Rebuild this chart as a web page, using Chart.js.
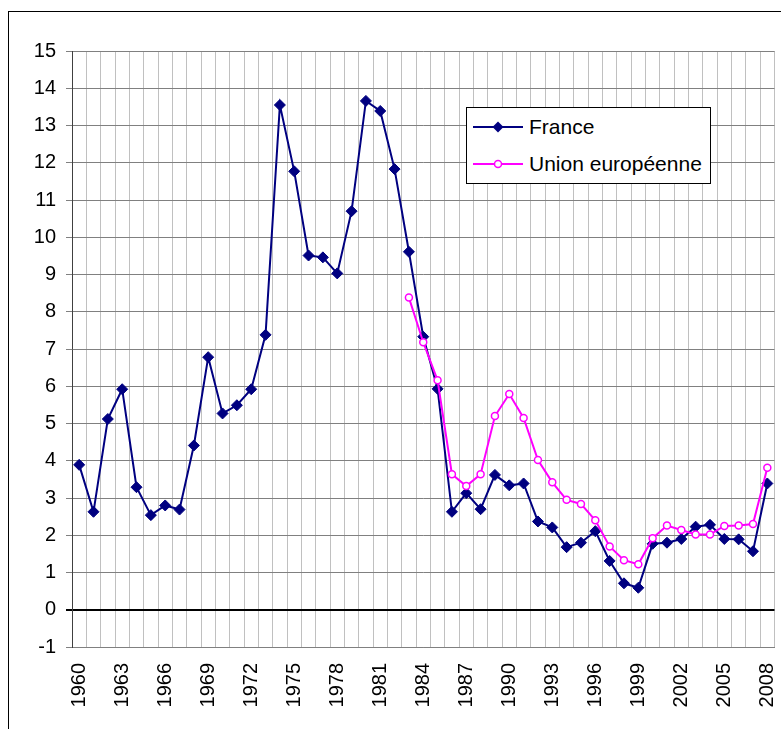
<!DOCTYPE html>
<html>
<head>
<meta charset="utf-8">
<script src="https://cdn.jsdelivr.net/npm/chart.js@4.4.0/dist/chart.umd.min.js"></script>
<style>
  html, body { margin: 0; padding: 0; background: #fff; overflow: hidden; }
  #frame { position: absolute; left: 8px; top: 11px; width: 900px; height: 900px;
           border-left: 1px solid #000; border-top: 1px solid #000; }
  #chart { position: absolute; left: 0; top: 0; }
  #legend { position: absolute; left: 466px; top: 107px; width: 243px; height: 75px;
            border: 1px solid #000; background: #fff;
            font-family: "Liberation Sans", Arial, sans-serif; font-size: 21px; color: #000; }
  .row { position: absolute; left: 6px; height: 24px; display: flex; align-items: center; }
  .row svg { margin-right: 6px; }
</style>
</head>
<body>
<div id="frame"></div>
<canvas id="chart" width="781" height="729"></canvas>
<div id="legend">
  <div class="row" style="top:7px">
    <svg width="50" height="14"><line x1="0" y1="7" x2="50" y2="7" stroke="#000080" stroke-width="2"/>
      <polygon points="25,1.5 30.5,7 25,12.5 19.5,7" fill="#000080"/></svg>France
  </div>
  <div class="row" style="top:44px">
    <svg width="50" height="14"><line x1="0" y1="7" x2="50" y2="7" stroke="#ff00ff" stroke-width="2"/>
      <circle cx="25" cy="7" r="3.5" fill="#fff" stroke="#ff00ff" stroke-width="1.5"/></svg>Union européenne
  </div>
</div>
<script>
// === Data ===
const years = ['1960', '1961', '1962', '1963', '1964', '1965', '1966', '1967', '1968', '1969',
    '1970', '1971', '1972', '1973', '1974', '1975', '1976', '1977', '1978', '1979',
    '1980', '1981', '1982', '1983', '1984', '1985', '1986', '1987', '1988', '1989',
    '1990', '1991', '1992', '1993', '1994', '1995', '1996', '1997', '1998', '1999',
    '2000', '2001', '2002', '2003', '2004', '2005', '2006', '2007', '2008'];

const france = [3.89, 2.63, 5.12, 5.92, 3.29, 2.54, 2.80, 2.69, 4.41, 6.78,
    5.27, 5.49, 5.92, 7.38, 13.55, 11.77, 9.51, 9.46, 9.03, 10.70,
    13.66, 13.39, 11.83, 9.61, 7.33, 5.93, 2.63, 3.13, 2.70, 3.62,
    3.34, 3.39, 2.37, 2.21, 1.68, 1.80, 2.11, 1.31, 0.71, 0.59,
    1.77, 1.80, 1.90, 2.23, 2.28, 1.90, 1.89, 1.57, 3.39];

const unionEuropeenne = [null, null, null, null, null, null, null, null, null, null,
    null, null, null, null, null, null, null, null, null, null,
    null, null, null, 8.38, 7.18, 6.16, 3.64, 3.32, 3.64, 5.20,
    5.79, 5.15, 4.02, 3.42, 2.95, 2.84, 2.40, 1.70, 1.33, 1.22,
    1.92, 2.26, 2.14, 2.02, 2.02, 2.25, 2.26, 2.30, 3.81];

const yMin = -1;
const yMax = 15;
const labelEvery = 3;

const tickFont = { family: '"Liberation Sans", Arial, sans-serif', size: 20 };

const ctx = document.getElementById('chart').getContext('2d');
new Chart(ctx, {
    type: 'line',
    data: {
        labels: years,
        datasets: [{
            label: 'France',
            data: france,
            borderColor: '#000080',
            backgroundColor: '#000080',
            borderWidth: 2,
            pointStyle: 'rectRot',
            pointRadius: 5.5,
            pointBorderWidth: 1,
            tension: 0,
            order: 1
        }, {
            label: 'Union européenne',
            data: unionEuropeenne,
            borderColor: '#ff00ff',
            backgroundColor: '#ffffff',
            borderWidth: 2,
            pointStyle: 'circle',
            pointRadius: 3.5,
            pointBorderWidth: 1.5,
            tension: 0,
            spanGaps: false,
            order: 0
        }]
    },
    options: {
        responsive: false,
        animation: false,
        layout: { padding: { left: 0, top: 51, right: 4, bottom: 0 } },
        plugins: {
            legend: { display: false },
            tooltip: { enabled: false }
        },
        scales: {
            x: {
                offset: true,
                grid: { offset: true, color: '#c0c0c0', lineWidth: 1, drawTicks: false },
                border: { color: '#808080' },
                ticks: {
                    autoSkip: false,
                    maxRotation: 90,
                    minRotation: 90,
                    padding: 16,
                    color: '#000',
                    font: tickFont,
                    callback: function (value, index) {
                        return index % labelEvery === 0 ? years[index] : '';
                    }
                },
                afterFit: function (scale) {
                    scale.height = 82;
                    scale.paddingLeft = 0;
                    scale.paddingRight = 0;
                }
            },
            y: {
                min: yMin,
                max: yMax,
                grid: {
                    color: function (c) { return c.tick && c.tick.value === 0 ? '#000000' : '#808080'; },
                    lineWidth: function (c) { return c.tick && c.tick.value === 0 ? 2 : 1; },
                    tickLength: 6
                },
                border: { color: '#404040' },
                ticks: {
                    stepSize: 1,
                    padding: 10,
                    color: '#000',
                    font: tickFont
                },
                afterFit: function (scale) {
                    scale.width = 72;
                    scale.paddingTop = 0;
                    scale.paddingBottom = 0;
                }
            }
        }
    }
});
</script>
</body>
</html>
